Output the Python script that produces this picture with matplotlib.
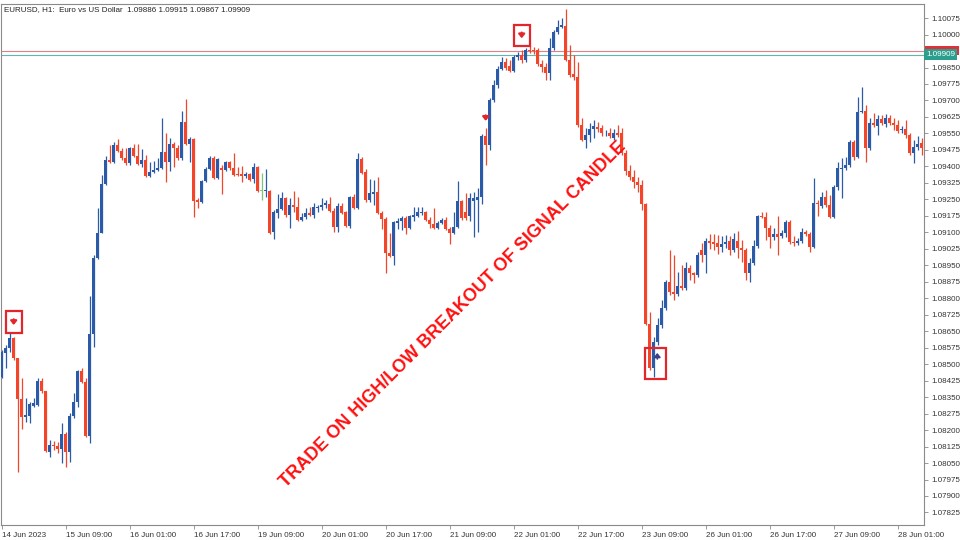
import numpy as np
import matplotlib
matplotlib.use("Agg")
import matplotlib.pyplot as plt
from matplotlib.patches import Rectangle
from matplotlib.transforms import blended_transform_factory

# EURUSD H1 candles (one entry per hourly bar)
opens = [
    1.08442, 1.08551, 1.08574, 1.08619, 1.08528, 1.08342, 1.08260, 1.08264, 1.08310, 1.08314,
    1.08423, 1.08378, 1.08100, 1.08132, 1.08128, 1.08114, 1.08182, 1.08100, 1.08264, 1.08328,
    1.08469, 1.08419, 1.08173, 1.08637, 1.08983, 1.09097, 1.09320, 1.09429, 1.09420, 1.09497,
    1.09470, 1.09438, 1.09415, 1.09484, 1.09447, 1.09411, 1.09429, 1.09356, 1.09374, 1.09383,
    1.09393, 1.09465, 1.09420, 1.09502, 1.09484, 1.09438, 1.09602, 1.09502, 1.09525, 1.09247,
    1.09238, 1.09333, 1.09388, 1.09438, 1.09347, 1.09393, 1.09383, 1.09420, 1.09393, 1.09365,
    1.09365, 1.09356, 1.09365, 1.09343, 1.09397, 1.09290, 1.09290, 1.09288, 1.09101, 1.09188,
    1.09206, 1.09256, 1.09179, 1.09224, 1.09215, 1.09156, 1.09170, 1.09188, 1.09179, 1.09211,
    1.09215, 1.09224, 1.09229, 1.09197, 1.09124, 1.09220, 1.09192, 1.09129, 1.09261, 1.09211,
    1.09434, 1.09374, 1.09247, 1.09274, 1.09283, 1.09188, 1.09161, 1.09006, 1.08992, 1.09142,
    1.09151, 1.09165, 1.09120, 1.09170, 1.09174, 1.09188, 1.09192, 1.09156, 1.09138, 1.09120,
    1.09142, 1.09156, 1.09115, 1.09097, 1.09124, 1.09242, 1.09192, 1.09174, 1.09242, 1.09247,
    1.09261, 1.09538, 1.09497, 1.09702, 1.09770, 1.09843, 1.09875, 1.09857, 1.09834, 1.09898,
    1.09907, 1.09884, 1.09929, 1.09929, 1.09929, 1.09866, 1.09852, 1.09825, 1.09939, 1.10011,
    1.10034, 1.10039, 1.09884, 1.09820, 1.09807, 1.09588, 1.09520, 1.09543, 1.09570, 1.09579,
    1.09575, 1.09552, 1.09552, 1.09529, 1.09552, 1.09552, 1.09461, 1.09379, 1.09352, 1.09329,
    1.09315, 1.09229, 1.08683, 1.08483, 1.08601, 1.08678, 1.08756, 1.08874, 1.08828, 1.08819,
    1.08856, 1.08847, 1.08938, 1.08915, 1.08906, 1.09020, 1.08997, 1.09060, 1.09056, 1.09051,
    1.09033, 1.09047, 1.09060, 1.09019, 1.09060, 1.09029, 1.09019, 1.08915, 1.08960, 1.09038,
    1.09174, 1.09170, 1.09120, 1.09079, 1.09092, 1.09083, 1.09097, 1.09147, 1.09056, 1.09051,
    1.09060, 1.09101, 1.09092, 1.09033, 1.09233, 1.09220, 1.09261, 1.09224, 1.09170, 1.09306,
    1.09388, 1.09393, 1.09406, 1.09511, 1.09443, 1.09647, 1.09652, 1.09484, 1.09597, 1.09584,
    1.09616, 1.09593, 1.09620, 1.09597, 1.09588, 1.09565, 1.09570, 1.09543, 1.09461, 1.09488,
    1.09506,
]
highs = [
    1.08564, 1.08587, 1.08642, 1.08624, 1.08530, 1.08437, 1.08346, 1.08328, 1.08346, 1.08437,
    1.08437, 1.08380, 1.08155, 1.08150, 1.08146, 1.08232, 1.08191, 1.08278, 1.08369, 1.08473,
    1.08483, 1.08437, 1.08810, 1.08997, 1.09211, 1.09361, 1.09447, 1.09497, 1.09511, 1.09525,
    1.09484, 1.09484, 1.09488, 1.09502, 1.09502, 1.09479, 1.09452, 1.09420, 1.09424, 1.09438,
    1.09620, 1.09552, 1.09529, 1.09511, 1.09497, 1.09652, 1.09707, 1.09534, 1.09529, 1.09256,
    1.09338, 1.09397, 1.09447, 1.09447, 1.09438, 1.09406, 1.09424, 1.09424, 1.09461, 1.09397,
    1.09402, 1.09374, 1.09370, 1.09415, 1.09402, 1.09370, 1.09388, 1.09292, 1.09201, 1.09274,
    1.09283, 1.09261, 1.09256, 1.09288, 1.09261, 1.09188, 1.09211, 1.09215, 1.09233, 1.09224,
    1.09256, 1.09247, 1.09261, 1.09211, 1.09233, 1.09233, 1.09197, 1.09265, 1.09274, 1.09461,
    1.09443, 1.09388, 1.09343, 1.09338, 1.09352, 1.09197, 1.09170, 1.09097, 1.09151, 1.09165,
    1.09174, 1.09174, 1.09179, 1.09215, 1.09215, 1.09215, 1.09197, 1.09170, 1.09211, 1.09151,
    1.09165, 1.09170, 1.09124, 1.09192, 1.09333, 1.09247, 1.09279, 1.09279, 1.09283, 1.09302,
    1.09547, 1.09575, 1.09711, 1.09793, 1.09857, 1.09898, 1.09893, 1.09884, 1.09907, 1.09920,
    1.09929, 1.09939, 1.09948, 1.09943, 1.09939, 1.09884, 1.09870, 1.09984, 1.10020, 1.10066,
    1.10075, 1.10116, 1.09952, 1.09907, 1.09875, 1.09620, 1.09575, 1.09597, 1.09611, 1.09602,
    1.09588, 1.09565, 1.09575, 1.09570, 1.09588, 1.09575, 1.09474, 1.09406, 1.09383, 1.09352,
    1.09338, 1.09233, 1.08737, 1.08624, 1.08710, 1.08792, 1.08883, 1.09019, 1.08997, 1.08919,
    1.08951, 1.08965, 1.08951, 1.08919, 1.09010, 1.09051, 1.09074, 1.09092, 1.09092, 1.09088,
    1.09083, 1.09088, 1.09083, 1.09097, 1.09106, 1.09065, 1.09029, 1.08983, 1.09065, 1.09179,
    1.09192, 1.09192, 1.09133, 1.09120, 1.09174, 1.09110, 1.09156, 1.09156, 1.09083, 1.09074,
    1.09120, 1.09110, 1.09101, 1.09347, 1.09247, 1.09283, 1.09292, 1.09270, 1.09315, 1.09420,
    1.09438, 1.09443, 1.09520, 1.09520, 1.09716, 1.09761, 1.09679, 1.09620, 1.09643, 1.09634,
    1.09634, 1.09638, 1.09634, 1.09620, 1.09611, 1.09584, 1.09611, 1.09552, 1.09520, 1.09538,
    1.09529,
]
lows = [
    1.08437, 1.08483, 1.08555, 1.08519, 1.08009, 1.08205, 1.08237, 1.08232, 1.08305, 1.08310,
    1.08369, 1.08100, 1.08078, 1.08109, 1.08096, 1.08050, 1.08032, 1.08055, 1.08255, 1.08305,
    1.08414, 1.08169, 1.08141, 1.08578, 1.08980, 1.09095, 1.09315, 1.09415, 1.09415, 1.09465,
    1.09429, 1.09406, 1.09406, 1.09443, 1.09406, 1.09397, 1.09352, 1.09352, 1.09370, 1.09379,
    1.09388, 1.09329, 1.09379, 1.09397, 1.09429, 1.09429, 1.09497, 1.09420, 1.09170, 1.09211,
    1.09233, 1.09329, 1.09383, 1.09343, 1.09343, 1.09274, 1.09379, 1.09383, 1.09356, 1.09356,
    1.09329, 1.09347, 1.09333, 1.09324, 1.09283, 1.09247, 1.09261, 1.09092, 1.09070, 1.09165,
    1.09201, 1.09170, 1.09120, 1.09192, 1.09151, 1.09151, 1.09161, 1.09174, 1.09165, 1.09192,
    1.09201, 1.09211, 1.09192, 1.09101, 1.09101, 1.09183, 1.09124, 1.09120, 1.09206, 1.09206,
    1.09365, 1.09238, 1.09238, 1.09224, 1.09183, 1.09115, 1.08915, 1.08988, 1.08951, 1.09115,
    1.09110, 1.09092, 1.09115, 1.09151, 1.09170, 1.09179, 1.09151, 1.09120, 1.09115, 1.09115,
    1.09138, 1.09110, 1.09047, 1.09092, 1.09120, 1.09156, 1.09156, 1.09151, 1.09079, 1.09101,
    1.09229, 1.09406, 1.09474, 1.09693, 1.09757, 1.09838, 1.09838, 1.09829, 1.09829, 1.09884,
    1.09870, 1.09875, 1.09916, 1.09911, 1.09857, 1.09829, 1.09793, 1.09793, 1.09929, 1.10002,
    1.10030, 1.09880, 1.09807, 1.09793, 1.09579, 1.09515, 1.09484, 1.09511, 1.09529, 1.09556,
    1.09538, 1.09538, 1.09529, 1.09520, 1.09534, 1.09452, 1.09361, 1.09338, 1.09302, 1.09283,
    1.09201, 1.08678, 1.08473, 1.08442, 1.08587, 1.08665, 1.08746, 1.08815, 1.08792, 1.08810,
    1.08837, 1.08837, 1.08883, 1.08869, 1.08897, 1.08965, 1.08915, 1.09024, 1.09019, 1.09001,
    1.09010, 1.09029, 1.08997, 1.09010, 1.08983, 1.08965, 1.08883, 1.08874, 1.08951, 1.09029,
    1.09165, 1.09065, 1.09029, 1.09065, 1.08997, 1.09074, 1.09079, 1.09047, 1.09038, 1.09042,
    1.09051, 1.09083, 1.09010, 1.09029, 1.09174, 1.09211, 1.09215, 1.09165, 1.09165, 1.09292,
    1.09256, 1.09383, 1.09397, 1.09429, 1.09438, 1.09643, 1.09420, 1.09474, 1.09579, 1.09543,
    1.09588, 1.09579, 1.09588, 1.09565, 1.09552, 1.09552, 1.09529, 1.09452, 1.09415, 1.09474,
    1.09452,
]
closes = [
    1.08555, 1.08574, 1.08619, 1.08528, 1.08342, 1.08260, 1.08269, 1.08319, 1.08323, 1.08423,
    1.08378, 1.08105, 1.08132, 1.08128, 1.08114, 1.08182, 1.08100, 1.08264, 1.08328, 1.08469,
    1.08419, 1.08173, 1.08637, 1.08983, 1.09097, 1.09320, 1.09429, 1.09420, 1.09497, 1.09470,
    1.09438, 1.09415, 1.09484, 1.09447, 1.09411, 1.09429, 1.09356, 1.09374, 1.09383, 1.09393,
    1.09465, 1.09420, 1.09502, 1.09484, 1.09438, 1.09602, 1.09502, 1.09525, 1.09242, 1.09238,
    1.09333, 1.09388, 1.09438, 1.09347, 1.09434, 1.09383, 1.09420, 1.09393, 1.09361, 1.09361,
    1.09356, 1.09365, 1.09338, 1.09397, 1.09288, 1.09290, 1.09292, 1.09097, 1.09192, 1.09206,
    1.09256, 1.09179, 1.09224, 1.09215, 1.09156, 1.09170, 1.09188, 1.09179, 1.09215, 1.09215,
    1.09224, 1.09233, 1.09197, 1.09124, 1.09220, 1.09188, 1.09129, 1.09261, 1.09211, 1.09434,
    1.09370, 1.09247, 1.09279, 1.09283, 1.09188, 1.09161, 1.09006, 1.08992, 1.09147, 1.09151,
    1.09165, 1.09120, 1.09174, 1.09179, 1.09192, 1.09192, 1.09156, 1.09138, 1.09120, 1.09142,
    1.09156, 1.09115, 1.09097, 1.09124, 1.09242, 1.09165, 1.09165, 1.09256, 1.09256, 1.09261,
    1.09538, 1.09497, 1.09702, 1.09770, 1.09843, 1.09875, 1.09848, 1.09834, 1.09898, 1.09907,
    1.09884, 1.09929, 1.09925, 1.09925, 1.09866, 1.09852, 1.09825, 1.09939, 1.10011, 1.10034,
    1.10043, 1.09884, 1.09816, 1.09807, 1.09588, 1.09520, 1.09543, 1.09570, 1.09584, 1.09570,
    1.09552, 1.09553, 1.09538, 1.09552, 1.09543, 1.09461, 1.09379, 1.09352, 1.09329, 1.09315,
    1.09229, 1.08683, 1.08483, 1.08601, 1.08678, 1.08756, 1.08874, 1.08828, 1.08819, 1.08856,
    1.08847, 1.08938, 1.08915, 1.08906, 1.08997, 1.08997, 1.09060, 1.09051, 1.09047, 1.09033,
    1.09047, 1.09056, 1.09019, 1.09070, 1.09029, 1.09019, 1.08915, 1.08960, 1.09038, 1.09174,
    1.09170, 1.09120, 1.09079, 1.09092, 1.09079, 1.09097, 1.09147, 1.09056, 1.09051, 1.09060,
    1.09101, 1.09092, 1.09033, 1.09233, 1.09229, 1.09261, 1.09224, 1.09170, 1.09306, 1.09393,
    1.09393, 1.09406, 1.09511, 1.09443, 1.09647, 1.09652, 1.09484, 1.09597, 1.09588, 1.09616,
    1.09597, 1.09620, 1.09597, 1.09588, 1.09561, 1.09570, 1.09543, 1.09461, 1.09488, 1.09502,
    1.09484,
]

date_labels = ["14 Jun 2023", "15 Jun 09:00", "16 Jun 01:00", "16 Jun 17:00", "19 Jun 09:00",
               "20 Jun 01:00", "20 Jun 17:00", "21 Jun 09:00", "22 Jun 01:00", "22 Jun 17:00",
               "23 Jun 09:00", "26 Jun 01:00", "26 Jun 17:00", "27 Jun 09:00", "28 Jun 01:00"]
bars_per_label = 16

header = "EURUSD, H1:  Euro vs US Dollar  1.09886 1.09915 1.09867 1.09909"
bid_price = 1.09909
ask_price = 1.09925
sell_signals = [3, 130]      # boxed down arrows
sell_marker = [121]          # plain down arrow
buy_signals = [163]          # boxed up arrow
caption = "TRADE ON HIGH/LOW BREAKOUT OF SIGNAL CANDLE"

BULL = "#2b5ba8"
BEAR = "#f2452a"
DOJI = "#7cc47c"
SIG = "#e3262b"
FONT = "Liberation Sans"
ARROW = "-|>,head_width=0.18,head_length=0.22"

o = np.array(opens); h = np.array(highs); l = np.array(lows); c = np.array(closes)
x = np.arange(len(o))
colors = np.where(c > o, BULL, np.where(c < o, BEAR, DOJI))

fig = plt.figure(figsize=(9.6, 5.4), dpi=100)
ax = fig.add_axes([1 / 960, 15 / 540, 923 / 960, 521 / 540])

ax.vlines(x, l, h, colors=colors, linewidth=0.9, zorder=2)
body_lo = np.minimum(o, c)
body_h = np.maximum(np.abs(c - o), 0.000015)
ax.bar(x, body_h, bottom=body_lo, width=0.7, color=colors, linewidth=0, zorder=3)

# bid / ask lines
ax.axhline(ask_price, color="#e07f8a", linewidth=0.8, zorder=1)
ax.axhline(bid_price, color="#5fb8ad", linewidth=0.8, zorder=1)

# signal boxes and arrows
for i in sell_signals:
    bot = h[i] + 0.0002
    top = bot + 0.00096
    ax.add_patch(Rectangle((i - 2.05, bot), 4.1, top - bot, fill=False,
                           edgecolor=SIG, linewidth=1.6, zorder=5))
    mid = (bot + top) / 2
    ax.annotate("", xy=(i, mid - 0.00014), xytext=(i, mid + 0.00012),
                arrowprops=dict(arrowstyle=ARROW, color=SIG, lw=1.6,
                                shrinkA=0, shrinkB=0), zorder=6)
for i in sell_marker:
    y0 = h[i] + 0.00045
    ax.annotate("", xy=(i, y0 - 0.00013), xytext=(i, y0 + 0.00012),
                arrowprops=dict(arrowstyle=ARROW, color=SIG, lw=1.6,
                                shrinkA=0, shrinkB=0), zorder=6)
for i in buy_signals:
    bot = l[i] - 0.0001
    top = l[i] + 0.0013
    ax.add_patch(Rectangle((i - 2.2, bot), 5.25, top - bot, fill=False,
                           edgecolor=SIG, linewidth=1.6, zorder=5))
    ym = l[i] + 0.00095
    ax.annotate("", xy=(i + 0.9, ym + 0.00014), xytext=(i + 0.9, ym - 0.00013),
                arrowprops=dict(arrowstyle=ARROW, color="#3b3f86", lw=1.3,
                                shrinkA=0, shrinkB=0), zorder=6)

ax.text(0.4897, 0.403, caption, transform=ax.transAxes, rotation=45,
        rotation_mode="anchor", ha="center", va="center", fontsize=13,
        fontweight="bold", color="#ff1010", family=FONT, zorder=7)

ax.set_xlim(-0.175, 230.575)
ax.set_ylim(1.07768, 1.10139)

# axes styling (MT5 look)
for s in ax.spines.values():
    s.set_color("#8a8a8a")
    s.set_linewidth(0.8)
ax.yaxis.tick_right()
yt = np.arange(1.07825, 1.10076, 0.00075)
ax.set_yticks(yt)
ax.set_yticklabels(["" if abs(v - 1.09925) < 1e-6 else f"{v:.5f}" for v in yt],
                   fontsize=5.8, family=FONT, color="#333333")
ax.set_xticks(np.arange(len(date_labels)) * bars_per_label)
ax.set_xticklabels(date_labels, ha="left", fontsize=5.8, family=FONT, color="#333333")
ax.tick_params(axis="both", direction="out", length=3, width=0.6, color="#8a8a8a", pad=2)

# price labels on the right axis: ask box peeks out above the bid label
trans = blended_transform_factory(ax.transAxes, ax.transData)
ax.add_patch(Rectangle((1.0015, bid_price), 0.036, ask_price + 0.00025 - bid_price,
                       transform=trans, facecolor="#e0303a", edgecolor="none",
                       clip_on=False, zorder=8))
ax.annotate(f"{bid_price:.5f}", xy=(1, bid_price), xycoords=("axes fraction", "data"),
            xytext=(1.5, 0), textcoords="offset points", ha="left", va="center",
            fontsize=5.8, family=FONT, color="white", annotation_clip=False,
            bbox=dict(boxstyle="square,pad=0.2", fc="#2b9e8e", ec="none"), zorder=9)

fig.text(4 / 960, 1 - 10 / 540, header, fontsize=5.8, family=FONT, color="#222222",
         va="center", ha="left")

fig.savefig("out.png", dpi=100)
